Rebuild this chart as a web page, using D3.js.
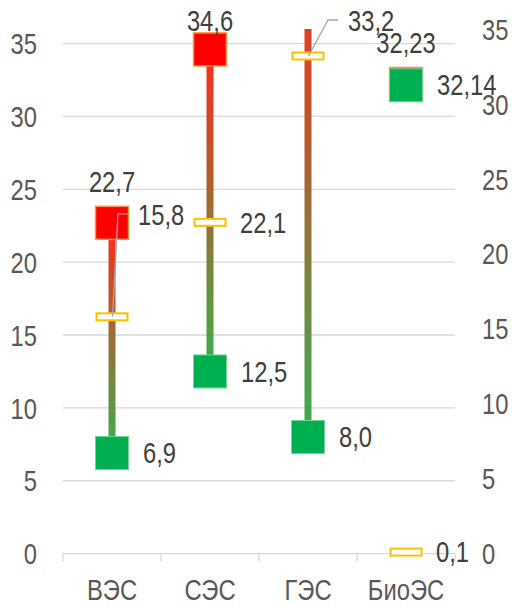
<!DOCTYPE html>
<html>
<head>
<meta charset="utf-8">
<script src="https://cdn.jsdelivr.net/npm/d3@7"></script>
<style>
  html, body { margin: 0; padding: 0; background: #fff; }
  svg { display: block; }
  text { font-family: "Liberation Sans", Arial, sans-serif; }
</style>
</head>
<body>
<svg id="chart" width="512" height="604"></svg>
<script>
// ---- data ----
const categories = ["ВЭС", "СЭС", "ГЭС", "БиоЭС"];
const maxValues = [22.7, 34.6, 40.0, 32.23];   // ГЭС max is above the axis range (clipped)
const minValues = [6.9, 12.5, 8.0, 32.14];
const avgValues = [15.8, 22.1, 33.2, 0.1];     // plotted on the secondary (right) axis
const leftTicks = [0, 5, 10, 15, 20, 25, 30, 35];
const rightTicks = [0, 5, 10, 15, 20, 25, 30, 35];

// ---- layout ----
const svg = d3.select("#chart");
const P = { left: 63, right: 455, top: 29, bottom: 553.6 };
const SX = 0.82; // narrow font emulation
const FS = 29;

const x = d3.scaleBand().domain(categories).range([P.left, P.right]).padding(0);
const yL = d3.scaleLinear().domain([0, 36]).range([P.bottom, P.top]);
const yR = d3.scaleLinear().domain([0, 35]).range([P.bottom, P.top]);
const cx = c => x(c) + x.bandwidth() / 2;

const loc = d3.formatLocale({ decimal: ",", thousands: " ", grouping: [3], currency: ["", ""] });
const fmt = v => (Math.abs(Math.round(v * 10) - v * 10) < 1e-6 ? loc.format(".1f")(v) : loc.format(".2f")(v));

const defs = svg.append("defs");
defs.append("clipPath").attr("id", "plotClip").append("rect")
  .attr("x", P.left).attr("y", P.top).attr("width", P.right - P.left).attr("height", P.bottom - P.top);
const grad = defs.append("linearGradient").attr("id", "barGrad")
  .attr("x1", 0).attr("y1", 0).attr("x2", 0).attr("y2", 1);
grad.append("stop").attr("offset", "0%").attr("stop-color", "#ff2a1a");
grad.append("stop").attr("offset", "100%").attr("stop-color", "#38b04e");

function label(g, txt, px, py, anchor, color) {
  return g.append("text")
    .attr("transform", `translate(${px},${py}) scale(${SX},1)`)
    .attr("text-anchor", anchor)
    .attr("dy", "0.35em")
    .attr("font-size", FS)
    .attr("fill", color)
    .text(txt);
}

// ---- gridlines ----
svg.append("g").selectAll("line").data(leftTicks.filter(t => t > 0)).join("line")
  .attr("x1", P.left).attr("x2", P.right)
  .attr("y1", d => yL(d)).attr("y2", d => yL(d))
  .attr("stroke", "#d9d9d9").attr("stroke-width", 1.3);

// ---- category axis ----
const xAxis = svg.append("g").attr("transform", `translate(0,${P.bottom})`)
  .call(d3.axisBottom(x).tickSize(0).tickPadding(26));
xAxis.select(".domain").remove();
xAxis.selectAll(".tick text")
  .attr("font-size", FS).attr("fill", "#595959").attr("font-family", "Liberation Sans, Arial, sans-serif")
  .attr("transform", `scale(${SX},1)`);
svg.append("line").attr("x1", P.left).attr("x2", P.right).attr("y1", P.bottom).attr("y2", P.bottom)
  .attr("stroke", "#d9d9d9").attr("stroke-width", 1.3);
const bounds = categories.map(c => x(c)).concat([P.right]);
svg.append("g").selectAll("line").data(bounds).join("line")
  .attr("x1", d => d).attr("x2", d => d).attr("y1", P.bottom).attr("y2", P.bottom + 8)
  .attr("stroke", "#d9d9d9").attr("stroke-width", 1.3);

// ---- left axis ----
const lAxis = svg.append("g").attr("transform", "translate(37,0)")
  .call(d3.axisLeft(yL).tickValues(leftTicks).tickSize(0).tickPadding(0));
lAxis.select(".domain").remove();
lAxis.selectAll(".tick text")
  .attr("x", 0).attr("dy", "0.35em")
  .attr("font-size", FS).attr("fill", "#595959").attr("font-family", "Liberation Sans, Arial, sans-serif")
  .attr("transform", `scale(${SX},1)`);

// ---- right axis ----
const rAxis = svg.append("g").attr("transform", "translate(482,0)")
  .call(d3.axisRight(yR).tickValues(rightTicks).tickSize(0).tickPadding(0));
rAxis.select(".domain").remove();
rAxis.selectAll(".tick text")
  .attr("x", 0).attr("dy", "0.35em")
  .attr("font-size", FS).attr("fill", "#595959").attr("font-family", "Liberation Sans, Arial, sans-serif")
  .attr("transform", `scale(${SX},1)`);

// ---- marks ----
const rows = categories.map((c, i) => ({ c, max: maxValues[i], min: minValues[i], avg: avgValues[i] }));
const plot = svg.append("g").attr("clip-path", "url(#plotClip)");
const BW = 7, SQ = 33;

plot.selectAll("rect.bar").data(rows).join("rect").attr("class", "bar")
  .attr("x", d => cx(d.c) - BW / 2).attr("width", BW)
  .attr("y", d => yL(d.max)).attr("height", d => Math.max(0.5, yL(d.min) - yL(d.max)))
  .attr("fill", "url(#barGrad)");

plot.selectAll("rect.hi").data(rows).join("rect").attr("class", "hi")
  .attr("x", d => cx(d.c) - SQ / 2).attr("y", d => yL(d.max) - SQ / 2)
  .attr("width", SQ).attr("height", SQ)
  .attr("fill", "#ff0000").attr("stroke", "#f79646").attr("stroke-width", 1.5);

plot.selectAll("rect.lo").data(rows).join("rect").attr("class", "lo")
  .attr("x", d => cx(d.c) - SQ / 2).attr("y", d => yL(d.min) - SQ / 2)
  .attr("width", SQ).attr("height", SQ)
  .attr("fill", "#00b050").attr("stroke", "#6fd494").attr("stroke-width", 1);

svg.append("g").selectAll("rect.avg").data(rows).join("rect").attr("class", "avg")
  .attr("x", d => cx(d.c) - 15.5).attr("y", d => yR(d.avg) - 3.5)
  .attr("width", 31).attr("height", 7)
  .attr("fill", "#ffffff").attr("stroke", "#ffc000").attr("stroke-width", 2);

// ---- labels ----
const lab = svg.append("g");
// label placement adjustments for average labels moved off their markers (dx, dy from marker)
const avgLabelMove = { "ВЭС": [26, -102], "ГЭС": [40, -35] };

rows.forEach(d => {
  const px = cx(d.c);
  // max label above
  if (d.max <= yL.domain()[1]) {
    label(lab, fmt(d.max), px, Math.max(yL(d.max) - 41, 21), "middle", "#404040");
  }
  // min label right
  label(lab, fmt(d.min), px + 31, yL(d.min), "start", "#404040");
  // avg label
  const ay = yR(d.avg);
  const mv = avgLabelMove[d.c];
  if (mv) {
    const lx = px + mv[0], ly = ay + mv[1];
    lab.append("polyline")
      .attr("points", [[px + 0.5, ay], [lx - 20, ly - 1], [lx - 10, ly - 1]].map(p => p.join(",")).join(" "))
      .attr("fill", "none").attr("stroke", "#a6a6a6").attr("stroke-width", 1.3);
    label(lab, fmt(d.avg), lx, ly, "start", "#404040");
  } else {
    label(lab, fmt(d.avg), px + 30, ay, "start", "#404040");
  }
});
</script>
</body>
</html>
